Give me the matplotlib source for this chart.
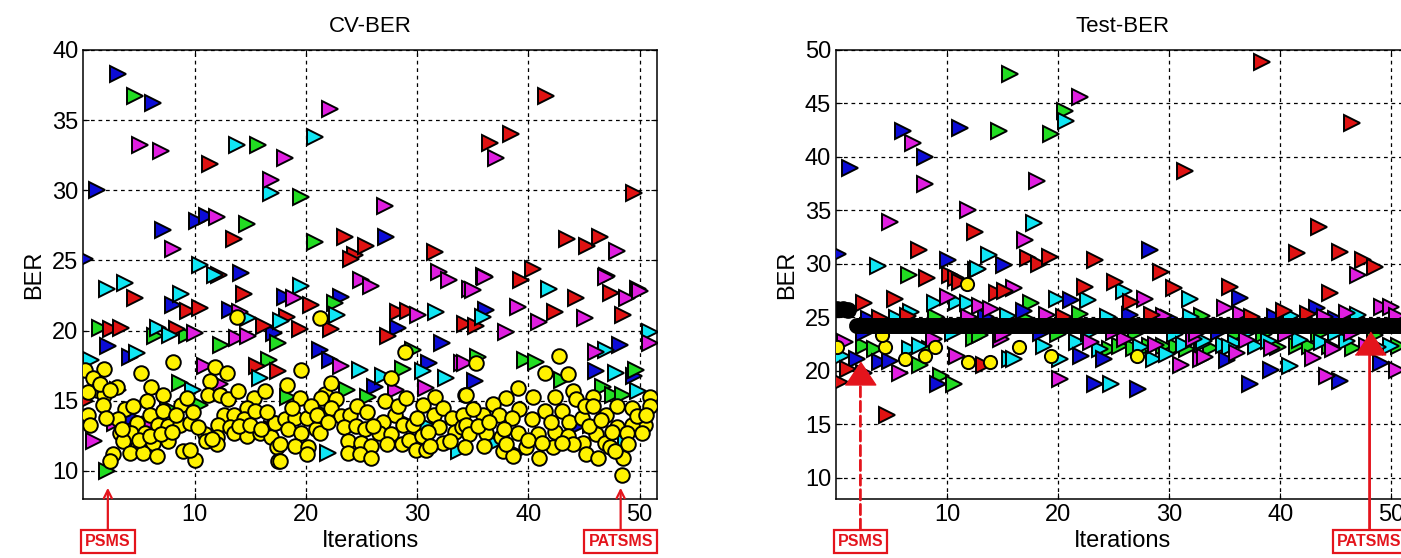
import matplotlib
matplotlib.use("Agg")
import matplotlib.pyplot as plt

plt.rcParams['font.family'] = ['Liberation Sans', 'DejaVu Sans']

# ---- CV-BER panel (left) : triangles per colour, (iteration, BER) ----
cv_blue = [(3.1, 38.3), (6.3, 36.2), (1.2, 30.0), (7.2, 27.2), (10.2, 27.8), (11.1, 28.2),
           (27.2, 26.7), (0.15, 25.1), (14.2, 24.1), (2.2, 18.9), (4.2, 18.1), (8.1, 21.8),
           (13.2, 21.5), (17.1, 19.8), (18.1, 22.4), (23.2, 22.4), (28.3, 20.2), (32.2, 19.1),
           (21.3, 18.6), (22.2, 17.9), (26.2, 16.0), (31.1, 17.7), (12.1, 15.8), (36.2, 21.5),
           (48.2, 19.0), (46.1, 17.1), (35.2, 16.4), (4.5, 13.8), (17.0, 13.0), (39.0, 11.3),
           (29.0, 13.5), (44.5, 13.2), (49.5, 16.8)]
cv_green = [(4.6, 36.7), (15.7, 33.2), (19.6, 29.5), (14.7, 27.6), (20.8, 26.3), (1.5, 20.2),
            (6.4, 19.6), (9.3, 19.7), (12.4, 19.0), (17.5, 19.1), (22.6, 22.0), (16.7, 17.9),
            (8.7, 16.3), (7.6, 14.5), (10.5, 14.7), (23.7, 15.8), (25.6, 15.3), (21.6, 14.1),
            (2.1, 10.0), (18.4, 15.3), (28.7, 17.3), (29.6, 18.6), (39.7, 17.9), (40.7, 17.8),
            (35.5, 18.1), (49.7, 17.2), (46.7, 16.0), (47.6, 15.4), (48.5, 15.4), (3.1, 15.8),
            (43.0, 16.5)]
cv_red = [(11.4, 31.9), (13.5, 26.5), (23.5, 26.7), (24.4, 25.4), (25.4, 26.0), (31.6, 25.6),
          (41.6, 36.7), (38.4, 34.0), (36.6, 33.4), (49.5, 29.8), (43.5, 26.5), (45.3, 26.0),
          (46.4, 26.7), (39.3, 23.6), (40.4, 24.4), (24.1, 25.1), (4.6, 22.3), (2.5, 20.1),
          (3.4, 20.2), (9.4, 21.4), (10.5, 21.6), (8.4, 20.1), (16.2, 20.3), (18.3, 21.0),
          (20.5, 21.8), (19.5, 20.1), (22.3, 20.1), (27.4, 19.6), (28.3, 21.3), (29.2, 21.4),
          (34.3, 20.5), (15.6, 17.5), (17.5, 17.1), (0.15, 15.0), (44.3, 22.3), (42.4, 21.3),
          (47.4, 22.7), (48.5, 21.1), (35.3, 20.3), (12.2, 24.0), (14.4, 22.6)]
cv_cyan = [(13.8, 33.2), (16.9, 29.8), (20.8, 33.8), (10.5, 24.7), (11.8, 24.0), (2.1, 23.0),
           (3.7, 23.4), (0.7, 17.9), (4.8, 18.4), (8.8, 22.6), (6.7, 20.2), (7.8, 19.7),
           (14.8, 20.9), (17.8, 20.7), (19.6, 23.2), (22.8, 21.1), (24.9, 17.2), (26.9, 16.8),
           (30.5, 17.1), (32.6, 16.6), (15.9, 16.6), (9.9, 15.8), (22.0, 11.3), (33.8, 11.4),
           (31.7, 21.3), (41.9, 23.0), (35.9, 21.0), (47.0, 18.6), (50.9, 19.9), (47.9, 17.0),
           (49.9, 15.7), (31.0, 13.2), (37.0, 12.0), (45.6, 13.3), (48.8, 12.0)]
cv_magenta = [(5.1, 33.2), (7.0, 32.8), (18.1, 32.3), (16.9, 30.7), (22.2, 35.8), (8.1, 25.8),
              (12.0, 28.1), (27.1, 28.9), (37.1, 32.3), (48.0, 25.7), (32.0, 24.2), (32.9, 23.6),
              (34.8, 23.0), (36.0, 23.9), (47.1, 23.9), (49.9, 23.0), (10.0, 19.8), (14.1, 21.3),
              (13.8, 19.5), (14.8, 19.6), (18.9, 22.3), (25.0, 23.6), (25.9, 23.2), (30.1, 21.1),
              (23.2, 17.5), (28.1, 15.8), (34.0, 17.7), (10.9, 17.5), (12.3, 16.2), (2.8, 13.4),
              (1.0, 12.1), (30.8, 15.9), (36.1, 23.8), (35.0, 22.9), (39.1, 21.7), (41.0, 20.6),
              (45.1, 20.9), (47.0, 23.8), (48.9, 22.3), (50.0, 22.8), (38.0, 19.9), (46.1, 18.5),
              (50.9, 19.1), (34.3, 17.7), (6.0, 13.3)]
cv_yellow = [(13.8, 21.0), (8.1, 17.8), (0.15, 17.2), (1.9, 17.3), (0.9, 16.6), (1.2, 15.8),
             (1.9, 15.4), (3.0, 16.0), (5.2, 17.0), (6.1, 16.0), (7.2, 15.4), (0.4, 15.6),
             (1.8, 14.7), (0.4, 14.0), (0.6, 13.3), (3.7, 14.4), (4.5, 14.6), (5.7, 15.0),
             (6.0, 14.0), (3.1, 13.7), (4.8, 13.4), (3.3, 12.7), (4.3, 12.7), (5.5, 12.7),
             (6.7, 13.3), (7.6, 13.2), (8.7, 13.3), (9.6, 13.4), (8.8, 14.7), (9.3, 15.2),
             (7.2, 14.3), (3.6, 12.1), (4.9, 11.8), (6.3, 12.0), (7.6, 12.1), (2.7, 11.2),
             (2.4, 10.7), (4.2, 11.3), (5.4, 11.3), (6.6, 11.1), (9.0, 11.4), (10.0, 10.8),
             (9.6, 11.5), (11.4, 16.4), (11.8, 17.4), (12.9, 17.0), (11.2, 15.4), (12.3, 15.4),
             (13.0, 15.1), (13.9, 15.7), (15.3, 15.2), (16.3, 15.7), (14.7, 14.5), (12.6, 14.0),
             (13.5, 14.0), (12.1, 13.3), (13.2, 13.1), (14.4, 13.7), (15.4, 14.3), (17.1, 13.4),
             (10.9, 12.6), (12.0, 12.4), (13.5, 12.7), (14.7, 12.5), (15.9, 12.7), (16.9, 12.4),
             (12.0, 11.9), (17.4, 11.7), (17.5, 10.7),
             (21.3, 20.9), (28.9, 18.5), (19.6, 17.2), (18.3, 16.1), (19.5, 15.2), (17.2, 13.4),
             (18.1, 13.7), (19.0, 13.8), (20.1, 13.8), (18.4, 13.0), (19.6, 12.7), (20.9, 13.0),
             (21.3, 12.7), (17.7, 11.9), (19.0, 11.8), (20.2, 11.7), (17.7, 10.7), (20.1, 11.2),
             (21.7, 15.5), (22.3, 16.3), (21.4, 15.2), (22.7, 15.1), (22.3, 14.5), (23.2, 13.9),
             (24.0, 14.0), (23.4, 13.1), (24.5, 13.2), (25.3, 13.0), (23.8, 12.1), (25.0, 12.0),
             (25.9, 11.8), (23.8, 11.3), (24.9, 11.2), (25.9, 10.9), (27.1, 15.0), (27.7, 16.6),
             (28.0, 14.0), (26.9, 13.5), (26.6, 12.7), (27.7, 12.6), (28.7, 13.3), (27.3, 11.9),
             (28.6, 11.9), (29.6, 13.3), (29.3, 12.2), (30.4, 12.5), (29.9, 11.5), (30.8, 11.5),
             (30.5, 14.7), (31.6, 15.3), (31.5, 14.0), (32.3, 14.5), (32.0, 13.1), (33.1, 13.8),
             (32.3, 12.0), (33.4, 12.8), (34.3, 15.4), (34.1, 14.0), (34.0, 13.1),
             (42.8, 18.2), (41.5, 17.0), (43.6, 16.9), (35.3, 17.7), (34.4, 15.4), (39.1, 15.9),
             (38.0, 15.2), (40.4, 15.3), (42.4, 15.3), (44.0, 15.7), (45.8, 15.3), (44.3, 15.1),
             (36.8, 14.8), (35.9, 14.0), (35.0, 14.4), (34.4, 13.3), (37.4, 14.0), (39.2, 14.4),
             (38.5, 13.8), (40.3, 13.7), (41.5, 14.3), (43.0, 14.3), (43.7, 13.5), (44.8, 13.8),
             (45.1, 14.6), (45.8, 14.6), (47.0, 14.0), (48.0, 14.6), (49.3, 14.5), (50.9, 15.3),
             (50.9, 14.6), (50.5, 13.3), (49.3, 13.3), (48.0, 13.1), (48.9, 12.7), (50.2, 12.7),
             (34.7, 12.6), (36.2, 12.7), (37.5, 12.4), (39.1, 12.7), (40.9, 12.6), (42.4, 12.8),
             (43.6, 12.5), (44.9, 12.0), (46.1, 12.6), (46.9, 12.0), (34.3, 11.7), (36.0, 11.8),
             (37.7, 11.4), (38.6, 11.1), (39.8, 11.7), (41.0, 10.9), (42.2, 11.7), (44.0, 11.9),
             (45.2, 11.2), (46.3, 10.9), (48.5, 10.9), (48.4, 9.7), (47.3, 11.7),
             (1.5, 16.2), (2.4, 15.8), (2.0, 13.8), (3.5, 13.0), (5.0, 12.2), (6.0, 12.5),
             (7.0, 12.6), (8.0, 12.8), (8.3, 14.0), (9.9, 14.2), (10.3, 13.1), (11.0, 12.1),
             (11.6, 12.3), (14.0, 13.2), (15.0, 13.3), (16.0, 13.0), (16.5, 14.2), (18.8, 14.5),
             (20.5, 14.6), (21.0, 14.0), (22.0, 13.5), (24.6, 14.6), (25.5, 14.2), (26.0, 13.2),
             (28.3, 14.6), (29.0, 15.2), (30.0, 13.8), (31.0, 12.8), (31.2, 11.8), (33.0, 12.1),
             (35.5, 13.2), (36.5, 13.5), (37.8, 13.0), (38.0, 11.9), (40.0, 12.2), (41.2, 12.0),
             (42.0, 13.5), (43.0, 12.0), (45.5, 13.2), (46.5, 13.6), (47.5, 12.8), (49.8, 13.9),
             (50.6, 14.0), (47.8, 11.4), (49.0, 11.9)]

# ---- Test-BER panel (right) ----
tb_blue = [(1.25, 39.0), (6.0, 42.4), (8.05, 40.0), (11.2, 42.7), (28.3, 31.3), (0.15, 30.9),
           (10.1, 30.4), (15.1, 29.9), (16.9, 25.6), (21.2, 26.6), (36.4, 26.8), (43.3, 25.9),
           (1.9, 21.1), (4.0, 20.8), (4.9, 20.9), (9.2, 18.8), (22.1, 21.4), (24.1, 21.1),
           (23.3, 18.8), (27.2, 18.3), (37.3, 18.8), (39.2, 20.1), (45.4, 19.0), (49.1, 20.7),
           (35.2, 21.0), (3.0, 24.8), (13.5, 25.0), (26.5, 25.2), (30.0, 24.9), (39.5, 25.0),
           (45.0, 24.8), (2.5, 23.5), (18.5, 23.5), (34.5, 23.6)]
tb_green = [(15.7, 47.8), (14.7, 42.4), (19.4, 42.1), (20.6, 44.3), (6.6, 29.0), (17.6, 26.3),
            (2.5, 22.3), (3.5, 22.0), (7.6, 20.5), (9.5, 19.5), (10.6, 18.8), (12.4, 23.1),
            (24.7, 22.0), (25.6, 22.3), (28.3, 22.3), (29.5, 22.3), (30.7, 22.2), (31.6, 22.0),
            (41.5, 22.3), (42.7, 22.3), (44.5, 22.3), (46.6, 22.1), (50.7, 22.3), (9.0, 25.0),
            (17.0, 24.9), (22.0, 25.3), (33.0, 25.1), (38.5, 23.4), (13.0, 23.3), (20.0, 23.4),
            (27.0, 23.5), (36.0, 23.3), (43.5, 23.4), (48.5, 23.3), (8.5, 22.0), (26.8, 22.1),
            (33.8, 22.1), (39.8, 22.2)]
tb_red = [(7.5, 31.3), (8.2, 28.7), (5.3, 26.7), (12.5, 33.0), (31.4, 38.7), (38.4, 48.9),
          (46.5, 43.2), (43.5, 33.4), (41.5, 31.0), (45.4, 31.1), (47.5, 30.4), (48.5, 29.7),
          (10.3, 29.0), (10.8, 28.7), (11.2, 28.3), (14.5, 27.3), (15.2, 27.5), (17.3, 30.5),
          (18.3, 30.0), (19.3, 30.6), (23.3, 30.4), (22.4, 27.8), (25.1, 28.3), (26.6, 26.4),
          (29.3, 29.2), (30.4, 27.7), (35.5, 27.8), (44.5, 27.3), (40.3, 25.6), (2.5, 26.3),
          (1.1, 20.2), (0.4, 18.9), (13.3, 20.5), (4.6, 15.9), (6.5, 25.1), (20.5, 25.0),
          (28.5, 25.2), (37.5, 25.0), (42.5, 25.3), (4.0, 24.9)]
tb_cyan = [(3.8, 29.8), (12.6, 29.4), (13.8, 30.8), (17.8, 33.8), (20.7, 43.4), (12.8, 29.5),
           (8.9, 26.3), (10.9, 26.4), (11.9, 26.3), (6.8, 25.5), (19.9, 26.7), (22.7, 26.6),
           (25.9, 27.5), (31.9, 26.7), (0.5, 21.4), (6.7, 22.0), (7.6, 22.3), (15.7, 21.1),
           (18.7, 22.3), (21.7, 22.7), (24.8, 18.8), (28.6, 21.1), (29.8, 21.6), (33.0, 22.5),
           (16.0, 21.1), (20.2, 21.1), (40.9, 20.4), (34.9, 22.4), (37.8, 22.3), (41.8, 22.9),
           (46.0, 22.8), (50.0, 22.3), (33.1, 22.8), (5.5, 24.9), (15.5, 25.1), (24.5, 25.0),
           (32.0, 25.0), (41.0, 25.1), (47.0, 25.2), (10.5, 23.5), (22.8, 23.5), (30.5, 23.4),
           (37.0, 23.5), (45.0, 23.5), (23.8, 22.0), (27.5, 22.2), (31.3, 22.4), (36.0, 22.6),
           (39.0, 22.8), (43.8, 22.7), (48.8, 22.2), (35.5, 22.2)]
tb_magenta = [(4.9, 33.9), (6.9, 41.3), (8.05, 37.5), (11.9, 35.0), (17.0, 32.2), (18.1, 37.7),
              (22.0, 45.6), (47.0, 29.0), (10.1, 26.9), (13.0, 26.1), (14.0, 25.8), (16.0, 27.7),
              (27.8, 26.7), (35.0, 25.9), (46.0, 25.4), (49.2, 26.0), (50.0, 26.0), (0.8, 22.7),
              (5.8, 19.8), (2.5, 19.8), (10.9, 21.4), (14.9, 23.0), (8.8, 23.0), (20.2, 19.2),
              (23.0, 22.7), (26.0, 23.0), (31.1, 20.5), (32.9, 21.1), (32.2, 23.0), (33.2, 21.3),
              (36.1, 21.7), (39.3, 22.1), (43.0, 21.2), (44.2, 19.5), (50.5, 20.1), (37.0, 22.9),
              (12.0, 25.0), (19.0, 25.2), (29.5, 25.1), (36.5, 25.3), (44.0, 25.0), (50.5, 25.1),
              (15.0, 23.4), (25.0, 23.6), (32.5, 23.5), (40.5, 23.4), (46.5, 23.5), (28.8, 22.4),
              (44.8, 22.0), (47.8, 22.3)]
tb_yellow = [(11.8, 28.1), (0.1, 22.2), (4.4, 22.2), (6.2, 21.1), (8.0, 21.4), (8.9, 22.2),
             (11.9, 20.8), (13.9, 20.8), (16.5, 22.2), (19.4, 21.4), (27.1, 21.4), (4.1, 23.3)]
tb_best_x = [0.1, 0.6, 1.1, 1.9, 52.5]
tb_best_y = [25.8, 25.8, 25.7, 24.2, 24.2]

# highlighted points (iteration, BER)
cv_psms, cv_patsms = (2.2, 8.8), (48.3, 8.8)
tb_psms, tb_patsms = (2.2, 19.8), (48.05, 22.6)

colors = {'blue': '#0c0cd6', 'green': '#22dd22', 'red': '#e01212',
          'cyan': '#10e6f4', 'magenta': '#e01ee0', 'yellow': '#fff200'}
ann_red = '#e4141c'

fig = plt.figure(figsize=(14.01, 5.58), dpi=100)
ax1 = fig.add_axes([0.0595, 0.1057, 0.4097, 0.8047])
ax2 = fig.add_axes([0.5967, 0.1057, 0.409, 0.8047])


def tri(ax, pts, c, ms):
    xs = [p[0] for p in pts]
    ys = [p[1] for p in pts]
    ax.plot(xs, ys, '>', ms=ms, mfc=colors[c], mec='black', mew=1.4, ls='none', zorder=3)


def circ(ax, pts, ms):
    xs = [p[0] for p in pts]
    ys = [p[1] for p in pts]
    ax.plot(xs, ys, 'o', ms=ms, mfc=colors['yellow'], mec='black', mew=1.4, ls='none', zorder=4)


for name, pts in [('blue', cv_blue), ('green', cv_green), ('red', cv_red),
                  ('cyan', cv_cyan), ('magenta', cv_magenta)]:
    tri(ax1, pts, name, 12)
circ(ax1, cv_yellow, 10.5)

for name, pts in [('green', tb_green), ('cyan', tb_cyan), ('blue', tb_blue),
                  ('magenta', tb_magenta), ('red', tb_red)]:
    tri(ax2, pts, name, 11)
circ(ax2, tb_yellow, 9.5)
ax2.plot(tb_best_x[:3], tb_best_y[:3], 'o', ms=11, color='black', zorder=5)
ax2.plot(tb_best_x[3:], tb_best_y[3:], '-', lw=11.5, color='black',
         solid_capstyle='round', zorder=5)

for ax, title, ylim, yticks in [(ax1, 'CV-BER', (8, 40), range(10, 41, 5)),
                                (ax2, 'Test-BER', (8, 50), range(10, 51, 5))]:
    ax.set_xlim(0, 51.6)
    ax.set_ylim(*ylim)
    ax.set_xticks([10, 20, 30, 40, 50])
    ax.set_yticks(list(yticks))
    ax.grid(True, color='black', lw=0.9, ls=(0, (3, 3)))
    ax.set_axisbelow(True)
    ax.tick_params(labelsize=17, direction='in', length=4, top=True, right=True)
    for s in ax.spines.values():
        s.set_linewidth(1.1)
    ax.set_title(title, fontsize=16, pad=13)
    ax.set_xlabel('Iterations', fontsize=17, labelpad=3)
    ax.set_ylabel('BER', fontsize=17, labelpad=5)

box = dict(boxstyle='square,pad=0.25', fc='white', ec=ann_red, lw=1.6)

# left panel: arrows from the boxes
for label, pt in [('PSMS', cv_psms), ('PATSMS', cv_patsms)]:
    ax1.annotate(label, xy=pt, xycoords='data',
                 xytext=(pt[0], -0.095), textcoords=('data', 'axes fraction'),
                 ha='center', va='center', fontsize=11.5, fontweight='bold', color=ann_red,
                 bbox=box, annotation_clip=False,
                 arrowprops=dict(arrowstyle='->,head_length=0.5,head_width=0.25',
                                 color=ann_red, lw=1.6, shrinkA=0, shrinkB=0))

# right panel: lines to big red markers
for label, pt, style in [('PSMS', tb_psms, '--'), ('PATSMS', tb_patsms, '-')]:
    ax2.annotate(label, xy=pt, xycoords='data',
                 xytext=(pt[0], -0.095), textcoords=('data', 'axes fraction'),
                 ha='center', va='center', fontsize=11.5, fontweight='bold', color=ann_red,
                 bbox=box, annotation_clip=False,
                 arrowprops=dict(arrowstyle='-', color=ann_red, lw=2, ls=style,
                                 shrinkA=0, shrinkB=0))
    ax2.plot(pt[0], pt[1], marker=[(-1, -0.75), (1, -0.75), (0, 0.75)], ms=22,
             color=ann_red, ls='none', zorder=7, clip_on=False)

fig.savefig('out.png', dpi=100)
